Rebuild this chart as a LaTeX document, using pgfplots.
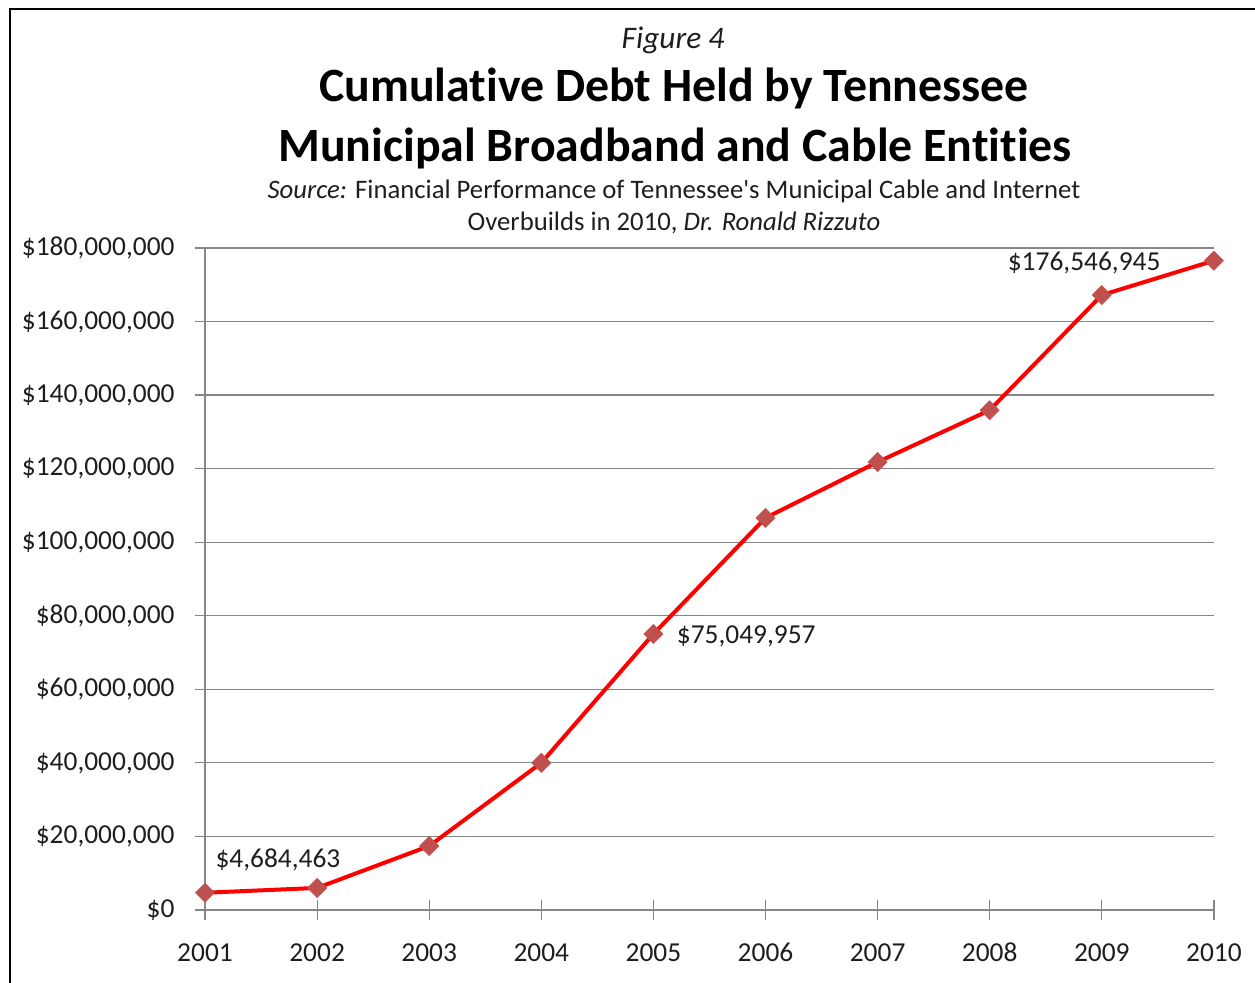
\documentclass[border=0pt]{standalone}
\usepackage{pgfplots}
\pgfplotsset{compat=1.18}
\usepackage{fontspec}
\setmainfont{Carlito}[Ligatures={NoCommon,TeXOff}]
\definecolor{mk}{RGB}{192,80,77}
\definecolor{gridc}{RGB}{134,134,134}
\definecolor{txt}{RGB}{30,30,30}
\begin{document}
\begin{tikzpicture}[x=1bp,y=1bp]
\useasboundingbox (0,0) rectangle (1255,983);
\draw[line width=2.5bp,black] (10,-5) -- (10,974) -- (1260,974);
\node[font=\fontsize{31.5}{35}\selectfont\itshape,text=txt] at (673,943) {Figure 4};
\node[font=\fontsize{48}{52}\selectfont\bfseries] at (674,895) {Cumulative Debt Held by Tennessee};
\node[font=\fontsize{48}{52}\selectfont\bfseries] at (675,835) {Municipal Broadband and Cable Entities};
\node[font=\fontsize{26.8}{30}\selectfont,text=txt] at (674,792) {\textit{Source:} Financial Performance of Tennessee's Municipal Cable and Internet};
\node[font=\fontsize{26.8}{30}\selectfont,text=txt] at (674,760) {Overbuilds in 2010, \textit{Dr. Ronald Rizzuto}};
\begin{axis}[
  at={(205bp,73bp)}, anchor=south west,
  scale only axis, width=1009bp, height=662bp,
  xmin=0, xmax=9, ymin=0, ymax=180000000,
  scaled y ticks=false,
  axis lines*=left,
  axis line style={gridc, line width=1.2bp},
  xtick={0,...,9},
  xticklabels={2001,2002,2003,2004,2005,2006,2007,2008,2009,2010},
  ytick={0,20000000,40000000,60000000,80000000,100000000,120000000,140000000,160000000,180000000},
  yticklabels={{\$0},{\$20,000,000},{\$40,000,000},{\$60,000,000},{\$80,000,000},{\$100,000,000},{\$120,000,000},{\$140,000,000},{\$160,000,000},{\$180,000,000}},
  ymajorgrids,
  grid style={gridc, line width=1.2bp},
  major tick style={gridc, line width=1.2bp},
  major tick length=10bp,
  ytick align=outside,
  xtick align=outside,
  extra x ticks={0,...,9}, extra x tick labels={},
  extra x tick style={xtick align=inside, grid=none},
  ticklabel style={font=\fontsize{27.5}{31}\selectfont, text=txt},
  yticklabel style={xshift=-17bp},
  xticklabel style={yshift=-20bp, text height=18bp, text depth=0bp},
  clip=false,
]
\addplot[red, line width=4bp, mark=square*, mark size=6.8bp,
  mark options={rotate=45, fill=mk, draw=mk, line width=0.5bp}]
  coordinates {
  (0,4684463) (1,6000000) (2,17400000) (3,40000000) (4,75049957)
  (5,106600000) (6,121800000) (7,135900000) (8,167200000) (9,176546945)};
\node[anchor=west,font=\fontsize{27.5}{31}\selectfont,text=txt] at (axis cs:0,4684463) [xshift=7bp,yshift=33bp] {\$4,684,463};
\node[anchor=west,font=\fontsize{27.5}{31}\selectfont,text=txt] at (axis cs:4,75049957) [xshift=20bp,yshift=-2bp] {\$75,049,957};
\node[anchor=east,font=\fontsize{27.5}{31}\selectfont,text=txt] at (axis cs:9,176546945) [xshift=-50bp,yshift=-2bp] {\$176,546,945};
\end{axis}
\end{tikzpicture}
\end{document}
